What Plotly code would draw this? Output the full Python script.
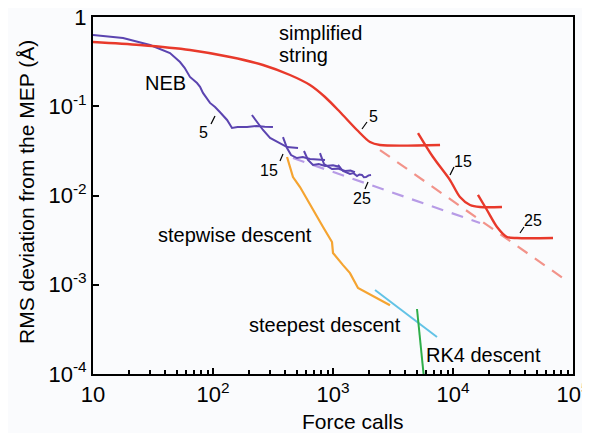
import plotly.graph_objects as go

# ---------------- data ----------------
# simplified string (red), three restarts
string1_x = [10, 24.6, 64.3, 139, 261, 438, 643, 858, 1144, 1585, 2034, 2464, 7798]
string1_y = [0.525, 0.486, 0.427, 0.356, 0.290, 0.224, 0.173, 0.127, 0.0862, 0.0542, 0.0397, 0.0368, 0.0368]
string2_x = [5110, 6812, 9441, 11430, 13860, 16790, 25590]
string2_y = [0.0501, 0.0270, 0.0149, 0.00962, 0.00783, 0.00743, 0.00743]
string3_x = [16140, 19190, 23270, 28180, 34150, 68130]
string3_y = [0.01014, 0.00688, 0.00444, 0.00343, 0.00334, 0.00334]
string_fit_x = [2464, 91200]
string_fit_y = [0.0323, 0.00108]

# NEB (purple), several restarts
neb1_x = [10, 17.8, 29.9, 43.8, 53.1, 58, 64.3, 73.6, 78, 82.5, 94.4, 104, 114, 131, 144, 160, 192, 230, 270, 316]
neb1_y = [0.629, 0.582, 0.486, 0.395, 0.313, 0.27, 0.213, 0.182, 0.165, 0.141, 0.109, 0.098, 0.0862, 0.0702, 0.0571, 0.0585, 0.0586, 0.0600, 0.0590, 0.0586]
neb2_x = [211, 237, 261, 299, 362, 414, 511]
neb2_y = [0.0798, 0.0649, 0.0542, 0.0441, 0.0388, 0.0349, 0.0340]
neb3_x = [383, 414, 447, 501, 560, 643, 858]
neb3_y = [0.0452, 0.0340, 0.0284, 0.0263, 0.0270, 0.0256, 0.0250]
neb4_x = [573, 619, 681, 760, 858, 1000, 1144]
neb4_y = [0.0315, 0.0250, 0.0220, 0.0225, 0.0214, 0.0218, 0.0209]
neb5_x = [779, 842, 981, 1100, 1259, 1400, 1524]
neb5_y = [0.0299, 0.0225, 0.0198, 0.0200, 0.0188, 0.0190, 0.0183]
neb6_x = [1101, 1212, 1386, 1480, 1585, 1660, 1744, 1810, 1884, 1980, 2074]
neb6_y = [0.0220, 0.0188, 0.0174, 0.0178, 0.0165, 0.0172, 0.0170, 0.0160, 0.0161, 0.0168, 0.0170]
neb_fit_x = [464, 16790]
neb_fit_y = [0.0263, 0.00492]

# stepwise descent (orange)
step_x = [414, 464, 531, 681, 826, 981, 1000, 1212, 1386, 1616, 2239, 2985]
step_y = [0.0270, 0.0161, 0.01245, 0.00688, 0.00444, 0.00301, 0.00227, 0.00166, 0.00135, 0.00092, 0.00073, 0.00059]

# steepest descent (cyan)
steep_x = [2239, 7356]
steep_y = [0.000873, 0.00026]

# RK4 descent (green)
rk4_x = [5012, 5730]
rk4_y = [0.000535, 0.00009]

x_tickvals = [10, 100, 1000, 10000, 100000]
x_ticktext = ["10", "10<sup>2</sup>", "10<sup>3</sup>", "10<sup>4</sup>", "10<sup>5</sup>"]
y_tickvals = [1e-4, 1e-3, 1e-2, 1e-1, 1]
y_ticktext = ["10<sup>-4</sup>", "10<sup>-3</sup>", "10<sup>-2</sup>", "10<sup>-1</sup>", "1"]
x_minor = [m * 10 ** e for e in range(1, 5) for m in range(2, 10)]

# ---------------- styling ----------------
RED = "#e8392b"
RED_L = "#f2938a"
PURP = "#5b44b0"
PURP_L = "#b79be6"
ORANGE = "#f5a431"
CYAN = "#62c3e6"
GREEN = "#2fae4a"
BG = "#fafbfd"
FONT = "Liberation Sans, Arial, Helvetica, sans-serif"

fig = go.Figure()

def add(x, y, color, width=2.2, dash="solid", shape="linear"):
    fig.add_trace(go.Scatter(x=x, y=y, mode="lines",
                             line=dict(color=color, width=width, dash=dash, shape=shape, smoothing=0.8),
                             showlegend=False, hoverinfo="skip"))

add(string_fit_x, string_fit_y, RED_L, 2.2, dash="12px,9px")
add(neb_fit_x, neb_fit_y, PURP_L, 2.2, dash="12px,9px")
add(step_x, step_y, ORANGE, 2.2)
add(steep_x, steep_y, CYAN, 2.0)
add(rk4_x, rk4_y, GREEN, 2.0)
for xs, ys in [(neb1_x, neb1_y), (neb2_x, neb2_y), (neb3_x, neb3_y), (neb4_x, neb4_y), (neb5_x, neb5_y), (neb6_x, neb6_y)]:
    add(xs, ys, PURP, 2.0)
add(string1_x, string1_y, RED, 2.4, shape="spline")
add(string2_x, string2_y, RED, 2.4, shape="spline")
add(string3_x, string3_y, RED, 2.4, shape="spline")

# page pixel -> paper helpers (plot area on the page: x 93..573, y 17..374)
OFF = 8  # default body margin of the html page
L, R, T, B = 93, 573, 17, 374
W, H = 590 - OFF, 433 - OFF
def px(x):
    return (x - L) / (R - L)
def py(y):
    return (B - y) / (B - T)

annos = []
def text(x, y, s, size=20, xanchor="center", angle=0):
    annos.append(dict(x=px(x), y=py(y), xref="paper", yref="paper", text=s, showarrow=False,
                      xanchor=xanchor, yanchor="middle", textangle=angle,
                      font=dict(size=size, color="black", family=FONT)))

text(277, 33, "simplified", xanchor="left")
text(277, 55, "string", xanchor="left")
text(165, 83, "NEB")
text(235, 235, "stepwise descent")
text(325, 325, "steepest descent")
text(483, 355, "RK4 descent")
text(203, 133, "5", 16)
text(269, 170, "15", 16)
text(362, 198, "25", 16)
text(373, 116, "5", 16)
text(463, 161, "15", 16)
text(533, 220, "25", 16)
text(353, 421, "Force calls", 21)
text(26, 192, "RMS deviation from the MEP (Å)", 21, angle=-90)

shapes = []
for (x0, y0, x1, y1) in [(211, 124, 215, 116), (280, 161, 283, 154), (365, 189, 368, 182),
                         (362, 129, 367, 122), (450, 175, 454, 167), (520, 233, 524, 227)]:
    shapes.append(dict(type="line", xref="paper", yref="paper", x0=px(x0), y0=py(y0), x1=px(x1), y1=py(y1),
                       line=dict(color="black", width=1.2)))

fig.update_layout(
    width=W, height=H,
    margin=dict(l=L - OFF, r=590 - R, t=T - OFF, b=433 - B, autoexpand=False),
    paper_bgcolor=BG, plot_bgcolor=BG,
    font=dict(family=FONT, color="black", size=20),
    annotations=annos, shapes=shapes,
    xaxis=dict(type="log", range=[1, 5], showgrid=False, zeroline=False,
               showline=True, linecolor="black", linewidth=2, mirror=True,
               ticks="inside", ticklen=6, tickwidth=1.5, tickcolor="black",
               tickvals=x_tickvals, ticktext=x_ticktext, tickfont=dict(size=22),
               ticklabeloverflow="allow",
               minor=dict(tickvals=x_minor, ticks="inside", ticklen=4, tickwidth=1.5, tickcolor="black", showgrid=False)),
    yaxis=dict(type="log", range=[-4, 0], showgrid=False, zeroline=False,
               showline=True, linecolor="black", linewidth=2, mirror=True,
               ticks="inside", ticklen=6, tickwidth=1.5, tickcolor="black",
               tickvals=y_tickvals, ticktext=y_ticktext, tickfont=dict(size=22),
               ticklabeloverflow="allow"),
)

fig.write_html("out.html")
